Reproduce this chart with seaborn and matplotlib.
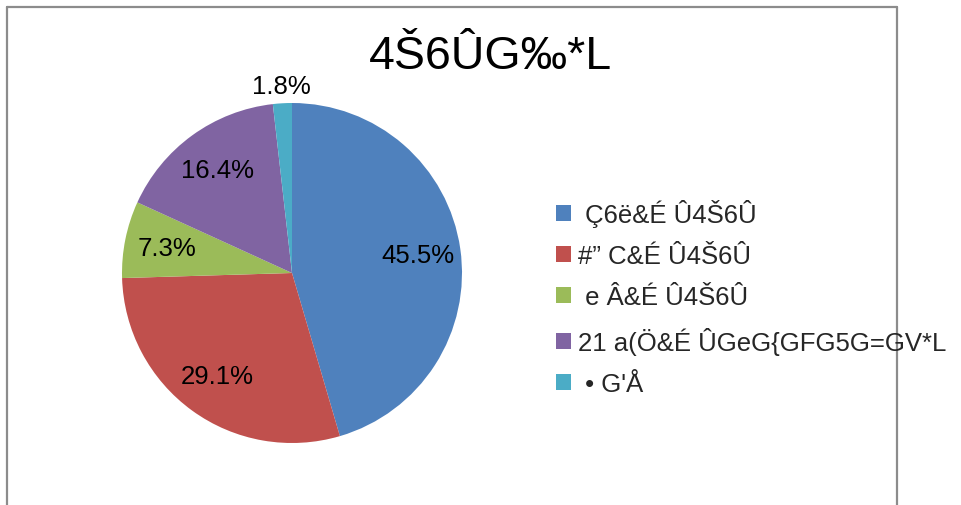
import numpy as np
import matplotlib
matplotlib.use("Agg")
import matplotlib.pyplot as plt
import seaborn as sns
from matplotlib.lines import Line2D
from matplotlib.patches import Patch

title = "4Š6ÛG‰*L"
categories = [" Ç6ë&É Û4Š6Û", "#” C&É Û4Š6Û", " e Â&É Û4Š6Û",
              "21 a(Ö&É ÛGeG{GFG5G=GV*L", " • G'Å"]
values = [45.5, 29.1, 7.3, 16.4, 1.8]
colors = ["#4F81BD", "#C0504D", "#9BBB59", "#8064A2", "#4BACC6"]

sns.set_theme(style="white")
plt.rcParams['font.family'] = ['Liberation Sans', 'DejaVu Sans']

W, H = 962, 506
fig = plt.figure(figsize=(W / 100, H / 100), dpi=100)

# outer frame
frame_color = "#8C8C8C"
fig.add_artist(Line2D([7 / W, 7 / W], [0, 1 - 8 / H], transform=fig.transFigure, color=frame_color, lw=1.6))
fig.add_artist(Line2D([897 / W, 897 / W], [0, 1 - 8 / H], transform=fig.transFigure, color=frame_color, lw=1.6))
fig.add_artist(Line2D([7 / W, 897 / W], [1 - 8 / H, 1 - 8 / H], transform=fig.transFigure, color=frame_color, lw=1.6))

cx, cy, r = 292, 274, 170
ax = fig.add_axes([(cx - r) / W, (H - cy - r) / H, 2 * r / W, 2 * r / H])
wedges, texts, autotexts = ax.pie(values, colors=colors, startangle=90, counterclock=False,
                                  autopct=lambda p: f"{p:.1f}%", pctdistance=0.75,
                                  textprops=dict(fontsize=18.5, color="black"),
                                  wedgeprops=dict(linewidth=0))
ax.set_xlim(-1, 1)
ax.set_ylim(-1, 1)
ax.set_aspect("equal")
ax.axis("off")

for w, t, v in zip(wedges, autotexts, values):
    t.set_text(f"{v:.1f}%")
    ang = np.deg2rad((w.theta1 + w.theta2) / 2)
    d = 1.1 if v < 3 else 0.75
    t.set_position((d * np.cos(ang), d * np.sin(ang)))

fig.text(490 / W, 1 - 57 / H, title, ha="center", va="center", fontsize=33.5, color="black")

handles = [Patch(facecolor=c, edgecolor="none") for c in colors]
leg = fig.legend(handles, categories, loc="upper left", bbox_to_anchor=(556 / W, 1 - 200 / H),
                 frameon=False, fontsize=18.5, handlelength=0.58, handleheight=0.58,
                 handletextpad=0.27, labelspacing=0.67, borderpad=0, borderaxespad=0)

fig.savefig("out.png", dpi=100, facecolor="white")
